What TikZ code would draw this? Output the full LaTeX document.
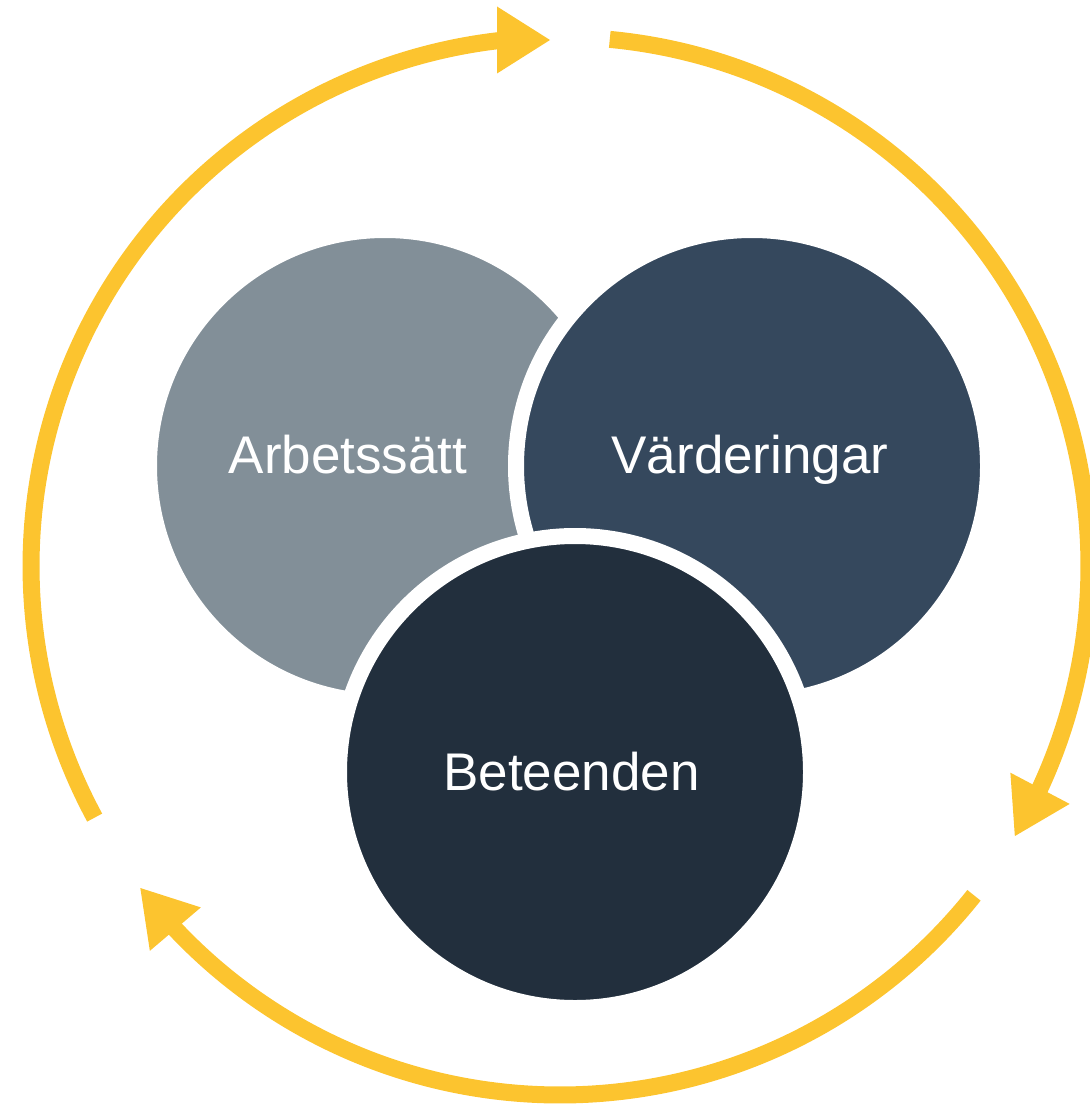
\documentclass[tikz,border=0pt]{standalone}
\usepackage{fontspec}
\setmainfont{Liberation Sans}
\usetikzlibrary{calc}
\definecolor{cycleyellow}{HTML}{FCC42F}
\definecolor{arbgray}{HTML}{828F98}
\definecolor{vardblue}{HTML}{35485D}
\definecolor{betnavy}{HTML}{222F3D}
\begin{document}
\begin{tikzpicture}[x=1pt,y=-1pt,
  cyclearc/.style={draw=cycleyellow, line width=17pt},
  cyclehead/.style={fill=cycleyellow},
  bubble/.style={circle, draw=white, line width=16pt, minimum size=472pt, inner sep=0pt},
  bubbletext/.style={text=white, font=\fontsize{53}{60}\selectfont, anchor=base, inner sep=0pt}]
\useasboundingbox (0,0) rectangle (1089,1107);
\coordinate (c) at (560,566);
% arc 1: left side up to the top
\coordinate (t1) at (550,40);
\coordinate (b1) at (497,40);
\draw[cyclearc] ($(c)+(151.6:529)$) arc[start angle=151.6, end angle=263.6, radius=529];
\fill[cyclehead] (t1) -- ($(b1)!33.5pt!90:(t1)$) -- ($(b1)!33.5pt!-90:(t1)$) -- cycle;
% arc 2: top down the right side
\coordinate (t2) at ($(c)+(390.7:529)$);
\coordinate (b2) at ($(c)+(384.85:529)$);
\draw[cyclearc] ($(c)+(275.4:529)$) arc[start angle=275.4, end angle=385.2, radius=529];
\fill[cyclehead] (t2) -- ($(b2)!33.5pt!90:(t2)$) -- ($(b2)!33.5pt!-90:(t2)$) -- cycle;
% arc 3: bottom, right to left
\coordinate (t3) at ($(c)+(142.5:529)$);
\coordinate (b3) at ($(c)+(136.65:529)$);
\draw[cyclearc] ($(c)+(38.5:529)$) arc[start angle=38.5, end angle=137.0, radius=529];
\fill[cyclehead] (t3) -- ($(b3)!33.5pt!90:(t3)$) -- ($(b3)!33.5pt!-90:(t3)$) -- cycle;
% circles
\node[bubble, fill=arbgray] (arb) at (385,466) {};
\node[bubble, fill=vardblue] (var) at (752,466) {};
\node[bubble, fill=betnavy] (bet) at (575,772) {};
\node[bubbletext] (arbt) at (348,473) {Arbetssätt};
\node[bubbletext] (vart) at (750,473) {Värderingar};
\node[bubbletext] (bett) at (571.5,790) {Beteenden};
\end{tikzpicture}
\end{document}
